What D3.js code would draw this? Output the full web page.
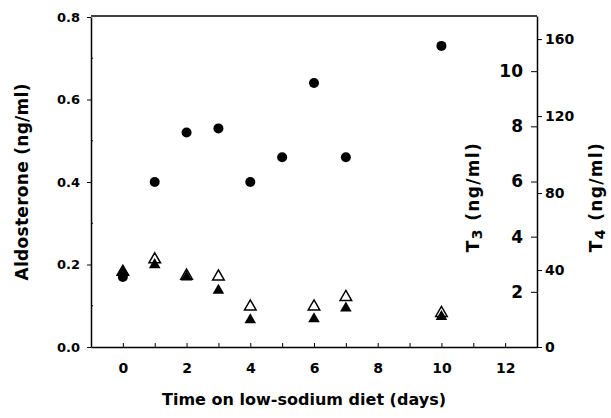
<!DOCTYPE html>
<html>
<head>
<meta charset="utf-8">
<script src="https://cdn.jsdelivr.net/npm/d3@7"></script>
<style>
  body { margin: 0; background: #fff; }
  text { font-family: "DejaVu Sans", sans-serif; font-weight: bold; fill: #000; }
</style>
</head>
<body>
<div id="chart"></div>
<script>
// --- data ---
const days = [0, 1, 2, 3, 4, 5, 6, 7, 10];
const aldosterone = [0.17, 0.40, 0.52, 0.53, 0.40, 0.46, 0.64, 0.46, 0.73];

const thyroidDays = [0, 1, 2, 3, 4, 6, 7, 10];
const t3Values = [2.74, 2.98, 2.53, 2.05, 0.98, 1.02, 1.41, 1.10];   // filled triangles
const t4Values = [39, 45.5, 37, 36.6, 21, 21, 25.9, 17.6];           // open triangles

const xTicks = [0, 2, 4, 6, 8, 10, 12];
const aldoTicks = [0.0, 0.2, 0.4, 0.6, 0.8];
const t3Ticks = [2, 4, 6, 8, 10];
const t4Ticks = [0, 40, 80, 120, 160];

const width = 611;
const height = 418;
const margin = { top: 16, right: 74, bottom: 71, left: 91 };

const svg = d3.select("#chart")
    .append("svg")
    .attr("width", width)
    .attr("height", height);

const x = d3.scaleLinear()
    .domain([-1, 13])
    .range([margin.left, width - margin.right]);

const yAldo = d3.scaleLinear()
    .domain([0, 0.8])
    .range([height - margin.bottom, margin.top + 1]);

const yT3 = d3.scaleLinear()
    .domain([0, 12])
    .range([height - margin.bottom, margin.top]);

const yT4 = d3.scaleLinear()
    .domain([0, 172])
    .range([height - margin.bottom, margin.top]);

const x0 = x.range()[0], x1 = x.range()[1];
const yBottom = height - margin.bottom;

// frame top line
svg.append("line")
    .attr("x1", x0).attr("x2", x1)
    .attr("y1", margin.top).attr("y2", margin.top)
    .attr("stroke", "#000").attr("stroke-width", 1.5);

// --- x axis (ticks point inside) ---
const xAxis = svg.append("g")
    .attr("transform", `translate(0, ${yBottom})`)
    .call(d3.axisBottom(x)
        .tickValues(d3.range(0, 13, 1))
        .tickSize(-4)
        .tickSizeOuter(0)
        .tickFormat(d => xTicks.includes(d) ? d : ""));
xAxis.select(".domain").attr("stroke-width", 1.5);
xAxis.selectAll("text")
    .attr("y", 16)
    .style("font-size", "14px");

// --- left axis: aldosterone ---
const leftAxis = svg.append("g")
    .attr("transform", `translate(${x0}, 0)`)
    .call(d3.axisLeft(yAldo)
        .tickValues(aldoTicks)
        .tickSize(4)
        .tickSizeOuter(0)
        .tickFormat(d3.format(".1f")));
leftAxis.select(".domain").attr("stroke-width", 1.5);
leftAxis.selectAll("text").style("font-size", "13px").attr("x", -11);

// minor inside ticks
svg.append("g")
    .selectAll("line")
    .data([0.1, 0.3, 0.5, 0.7])
    .enter().append("line")
    .attr("x1", x0).attr("x2", x0 + 2)
    .attr("y1", d => yAldo(d)).attr("y2", d => yAldo(d))
    .attr("stroke", "#000");

// --- right axis: T3 (ticks and labels inside the frame) ---
const t3Axis = svg.append("g")
    .attr("transform", `translate(${x1}, 0)`)
    .call(d3.axisLeft(yT3)
        .tickValues(t3Ticks)
        .tickSize(6)
        .tickSizeOuter(0));
t3Axis.select(".domain").attr("stroke-width", 1.5);
t3Axis.selectAll("text").style("font-size", "17px").attr("x", -14);

// --- right axis: T4 (outside) ---
const t4Axis = svg.append("g")
    .attr("transform", `translate(${x1}, 0)`)
    .call(d3.axisRight(yT4)
        .tickValues(t4Ticks)
        .tickSize(5)
        .tickSizeOuter(0));
t4Axis.select(".domain").remove();
t4Axis.selectAll("text").style("font-size", "14px").attr("x", 8);

// --- axis titles ---
svg.append("text")
    .attr("x", 304)
    .attr("y", 405)
    .attr("text-anchor", "middle")
    .attr("textLength", 284)
    .attr("lengthAdjust", "spacing")
    .style("font-size", "16px")
    .text("Time on low-sodium diet (days)");

svg.append("text")
    .attr("transform", "rotate(-90)")
    .attr("x", -182)
    .attr("y", 28)
    .attr("text-anchor", "middle")
    .attr("textLength", 197)
    .attr("lengthAdjust", "spacing")
    .style("font-size", "17px")
    .text("Aldosterone (ng/ml)");

function subTitle(cx, baseline, sub) {
    const t = svg.append("text")
        .attr("transform", "rotate(-90)")
        .attr("x", -cx)
        .attr("y", baseline)
        .attr("text-anchor", "middle")
        .style("font-size", "17px");
    t.append("tspan").text("T");
    t.append("tspan").attr("dy", 3).style("font-size", "14px").text(sub);
    t.append("tspan").attr("dy", -3).text(" (ng/ml)");
    // stretch letter spacing to the reference span
    const w = t.node().getComputedTextLength();
    const n = ("T" + sub + " (ng/ml)").length - 1;
    t.style("letter-spacing", ((109 - w) / n) + "px");
    return t;
}
subTitle(197, 479, "3");
subTitle(197, 602, "4");

// --- marks ---
const tri = d3.symbol().type(d3.symbolTriangle).size(58);

// open triangles (T4)
svg.append("g")
    .selectAll("path")
    .data(thyroidDays.map((d, i) => ({ day: d, v: t4Values[i] })))
    .enter().append("path")
    .attr("d", tri)
    .attr("transform", d => `translate(${x(d.day)}, ${yT4(d.v)})`)
    .attr("fill", "#fff")
    .attr("stroke", "#000")
    .attr("stroke-width", 1.5);

// filled triangles (T3)
svg.append("g")
    .selectAll("path")
    .data(thyroidDays.map((d, i) => ({ day: d, v: t3Values[i] })))
    .enter().append("path")
    .attr("d", tri)
    .attr("transform", d => `translate(${x(d.day)}, ${yT3(d.v)})`)
    .attr("fill", "#000");

// filled circles (aldosterone)
svg.append("g")
    .selectAll("circle")
    .data(days.map((d, i) => ({ day: d, v: aldosterone[i] })))
    .enter().append("circle")
    .attr("cx", d => x(d.day))
    .attr("cy", d => yAldo(d.v))
    .attr("r", 5)
    .attr("fill", "#000");
</script>
</body>
</html>
